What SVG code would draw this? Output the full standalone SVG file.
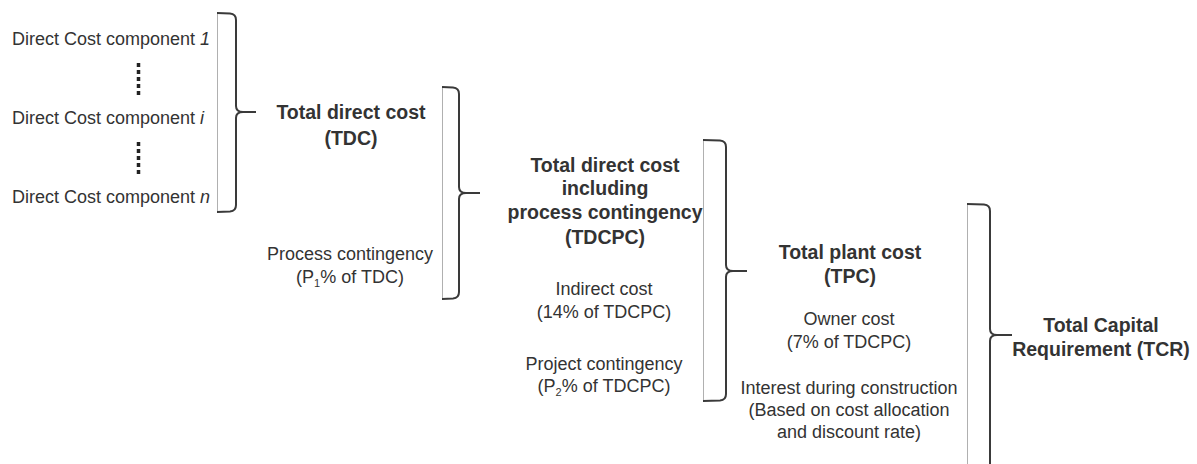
<svg xmlns="http://www.w3.org/2000/svg" width="1197" height="464" viewBox="0 0 1197 464">
<style>
text{font-family:"Liberation Sans",Arial,sans-serif;fill:#333;}
.r{font-size:18px;}
.b{font-size:19.5px;font-weight:bold;}
.c{text-anchor:middle;}
.br{fill:none;stroke:#3a3a3a;stroke-width:2;}
.bl{fill:none;stroke:#b0b0b0;stroke-width:1;}
.dots{stroke:#222;stroke-width:3.5;stroke-dasharray:4 3;}
</style>
<rect width="1197" height="464" fill="#fff"/>
<g id="connectors">
  <g id="brace1">
    <line class="bl" x1="217.5" y1="13" x2="217.5" y2="212"/>
    <path class="br" d="M217,13 L230,13.5 Q236,14 236,20 L236,106 Q236,112 243,112 L256,112 L243,112 Q236,112 236,118 L236,205 Q236,211 230,211.5 L217,212"/>
  </g>
  <g id="brace2">
    <line class="bl" x1="442.5" y1="87" x2="442.5" y2="299"/>
    <path class="br" d="M442,87 L453,87.5 Q459,88 459,94 L459,187 Q459,193 466,193 L480,193 L466,193 Q459,193 459,199 L459,292 Q459,298 453,298.5 L442,299"/>
  </g>
  <g id="brace3">
    <line class="bl" x1="703.5" y1="140" x2="703.5" y2="401"/>
    <path class="br" d="M703,140 L720,140.5 Q726,141 726,147 L726,265 Q726,271 733,271 L747,271 L733,271 Q726,271 726,277 L726,394 Q726,400 720,400.5 L703,401"/>
  </g>
  <g id="brace4">
    <line class="bl" x1="967.5" y1="204" x2="967.5" y2="470"/>
    <path class="br" d="M967,204 L984,204.5 Q990,205 990,211 L990,329 Q990,335 997,335 L1012,335 L997,335 Q990,335 990,341 L990,470"/>
  </g>
</g>
<g id="components">
  <text class="r" x="12" y="45">Direct Cost component <tspan font-style="italic">1</tspan></text>
  <line class="dots" x1="138.5" y1="63" x2="138.5" y2="96"/>
  <text class="r" x="12" y="124">Direct Cost component <tspan font-style="italic">i</tspan></text>
  <line class="dots" x1="138.5" y1="142" x2="138.5" y2="175"/>
  <text class="r" x="12" y="203">Direct Cost component <tspan font-style="italic">n</tspan></text>
</g>
<g id="tdc">
  <text class="b c" x="351" y="119">Total direct cost</text>
  <text class="b c" x="351" y="145">(TDC)</text>
  <text class="r c" x="350" y="260">Process contingency</text>
  <text class="r c" x="350" y="283">(P<tspan font-size="11" dy="4">1</tspan><tspan dy="-4">% of TDC)</tspan></text>
</g>
<g id="tdcpc">
  <text class="b c" x="605" y="172">Total direct cost</text>
  <text class="b c" x="605" y="195">including</text>
  <text class="b c" x="605" y="219">process contingency</text>
  <text class="b c" x="605" y="244">(TDCPC)</text>
  <text class="r c" x="604" y="295">Indirect cost</text>
  <text class="r c" x="604" y="318">(14% of TDCPC)</text>
  <text class="r c" x="604" y="370">Project contingency</text>
  <text class="r c" x="604" y="392">(P<tspan font-size="11" dy="4">2</tspan><tspan dy="-4">% of TDCPC)</tspan></text>
</g>
<g id="tpc">
  <text class="b c" x="850" y="259">Total plant cost</text>
  <text class="b c" x="850" y="283">(TPC)</text>
  <text class="r c" x="849" y="325">Owner cost</text>
  <text class="r c" x="849" y="348">(7% of TDCPC)</text>
  <text class="r c" x="849" y="394">Interest during construction</text>
  <text class="r c" x="849" y="416">(Based on cost allocation</text>
  <text class="r c" x="849" y="438">and discount rate)</text>
</g>
<g id="tcr">
  <text class="b c" x="1101" y="332">Total Capital</text>
  <text class="b c" x="1101" y="356">Requirement (TCR)</text>
</g>
</svg>
